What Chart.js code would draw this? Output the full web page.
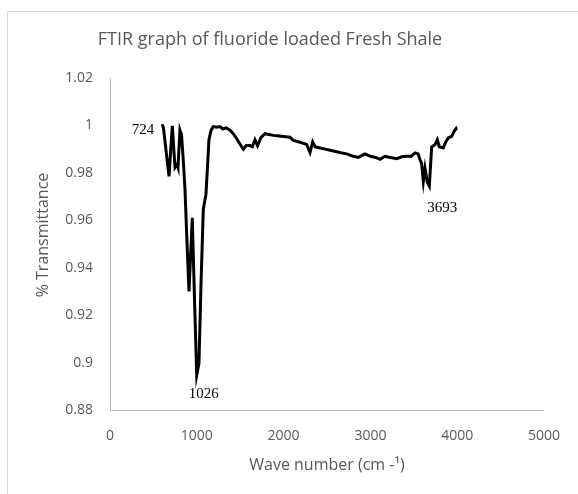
<!DOCTYPE html>
<html lang="en">
<head>
    <meta charset="UTF-8">
    <title>FTIR graph of fluoride loaded Fresh Shale</title>
    <script src="https://cdn.jsdelivr.net/npm/chart.js"></script>
    <style>
        body { margin: 0; background: #fff; }
        #wrap { width: 578px; height: 494px; }
    </style>
</head>
<body>
    <div id="wrap"><canvas id="ftirChart" width="578" height="494"></canvas></div>
    <script>
        // wave number (cm-1) and % transmittance
        const waveNumbers = [
            600, 616, 650, 680, 700, 718, 735, 749, 772, 783, 806, 824, 845, 864, 890, 910,
            948, 975, 999, 1025, 1050, 1075, 1106, 1140, 1165, 1190, 1230, 1267, 1300, 1340,
            1382, 1420, 1459, 1500, 1536, 1570, 1613, 1640, 1670, 1700, 1740, 1786, 1830, 1882,
            1950, 2020, 2074, 2112, 2180, 2266, 2304, 2335, 2362, 2420, 2480, 2535, 2600, 2660,
            2727, 2800, 2861, 2938, 3000, 3060, 3111, 3168, 3230, 3303, 3360, 3418, 3470, 3514,
            3550, 3571, 3590, 3610, 3629, 3656, 3679, 3706, 3744, 3771, 3794, 3840, 3868, 3898,
            3936, 3965, 3994, 4000
        ];
        const transmittance = [
            1.0005, 0.999, 0.988, 0.9785, 0.990, 0.9998, 0.990, 0.9823, 0.9835, 0.9823, 0.998, 0.996, 0.985, 0.973, 0.948, 0.930,
            0.961, 0.925, 0.8947, 0.8997, 0.935, 0.9647, 0.971, 0.994, 0.998, 0.9995, 0.9992, 0.9995, 0.9985, 0.999,
            0.998, 0.9965, 0.9945, 0.992, 0.990, 0.9915, 0.9915, 0.991, 0.994, 0.9915, 0.995, 0.9965, 0.9962, 0.9958,
            0.9955, 0.9952, 0.995, 0.9937, 0.993, 0.992, 0.9886, 0.993, 0.991, 0.9905, 0.990, 0.9895, 0.989, 0.9885,
            0.988, 0.987, 0.9865, 0.988, 0.987, 0.9865, 0.9857, 0.987, 0.9865, 0.986, 0.9868, 0.987, 0.987, 0.9884,
            0.988, 0.9856, 0.984, 0.9765, 0.982, 0.976, 0.9744, 0.991, 0.9919, 0.994, 0.991, 0.9905, 0.993, 0.9947,
            0.9954, 0.9975, 0.999, 0.999
        ];

        // labelled peaks
        const peakNames = ['724', '1026', '3693'];
        const peakWave = [718, 999, 3679];
        const peakValue = [0.9998, 0.8947, 0.9744];

        const xTicks = [0, 1000, 2000, 3000, 4000, 5000];
        const yTicks = [0.88, 0.9, 0.92, 0.94, 0.96, 0.98, 1, 1.02];

        const grey = '#595959';
        const sans = '"Open Sans", "Noto Sans", sans-serif';

        const decorations = {
            id: 'decorations',
            beforeDraw(chart) {
                const c = chart.ctx;
                c.save();
                c.fillStyle = '#fff';
                c.fillRect(0, 0, chart.width, chart.height);
                c.strokeStyle = '#d9d9d9';
                c.lineWidth = 1;
                c.strokeRect(7.5, 11.5, 600, 500);
                c.restore();
            },
            afterDraw(chart) {
                const c = chart.ctx;
                const x = chart.scales.x, y = chart.scales.y;
                c.save();
                c.fillStyle = grey;
                c.textAlign = 'center';
                c.textBaseline = 'middle';
                c.font = '18px ' + sans;
                c.fillText('FTIR graph of fluoride loaded Fresh Shale', 270, 40);
                c.font = '16px ' + sans;
                c.fillText('Wave number (cm -\u00B9)', 327, 465);
                c.translate(43, 235);
                c.rotate(-Math.PI / 2);
                c.fillText('% Transmittance', 0, 0);
                c.restore();

                // peak labels
                const offs = [[-18, 4, 'right'], [7, 19, 'center'], [13, 22, 'center']];
                c.save();
                c.fillStyle = '#000';
                c.font = '15px "Liberation Serif", "Times New Roman", serif';
                c.textBaseline = 'middle';
                peakNames.forEach((name, i) => {
                    c.textAlign = offs[i][2];
                    c.fillText(name, x.getPixelForValue(peakWave[i]) + offs[i][0],
                        y.getPixelForValue(peakValue[i]) + offs[i][1]);
                });
                c.restore();
            }
        };

        const ctx = document.getElementById('ftirChart').getContext('2d');
        const ftirChart = new Chart(ctx, {
            type: 'line',
            data: {
                datasets: [{
                    data: waveNumbers.map((w, i) => ({ x: w, y: transmittance[i] })),
                    borderColor: '#000',
                    borderWidth: 3,
                    pointRadius: 0,
                    tension: 0,
                    fill: false
                }]
            },
            options: {
                responsive: false,
                animation: false,
                devicePixelRatio: 1,
                layout: { padding: { top: 78, right: 34, bottom: 0, left: 0 } },
                plugins: { legend: { display: false }, tooltip: { enabled: false } },
                scales: {
                    x: {
                        type: 'linear',
                        min: 0,
                        max: 5000,
                        afterBuildTicks: s => { s.ticks = xTicks.map(v => ({ value: v })); },
                        afterFit: s => { s.height = 84; },
                        grid: { display: false, drawTicks: false },
                        border: { display: true, color: '#bfbfbf', width: 1 },
                        ticks: {
                            color: grey,
                            font: { family: sans, size: 14 },
                            padding: 18,
                            maxRotation: 0,
                            callback: v => String(v)
                        }
                    },
                    y: {
                        min: 0.88,
                        max: 1.02,
                        afterBuildTicks: s => { s.ticks = yTicks.map(v => ({ value: v })); },
                        afterFit: s => { s.width = 110; },
                        grid: { display: false, drawTicks: false },
                        border: { display: true, color: '#bfbfbf', width: 1 },
                        ticks: {
                            color: grey,
                            font: { family: sans, size: 14 },
                            padding: 17,
                            callback: v => String(+v.toFixed(2))
                        }
                    }
                }
            },
            plugins: [decorations]
        });
    </script>
</body>
</html>
